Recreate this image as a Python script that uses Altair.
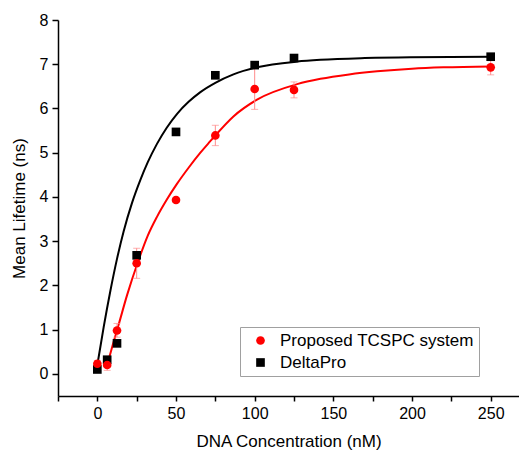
import altair as alt
import pandas as pd

# Measured points
conc = [0, 6.25, 12.5, 25, 50, 75, 100, 125, 250]
tcspc = [0.23, 0.20, 0.98, 2.50, 3.93, 5.39, 6.44, 6.42, 6.93]
tcspc_lo = [0.16, 0.08, 0.83, 2.16, 3.88, 5.16, 5.98, 6.24, 6.76]
tcspc_hi = [0.30, 0.32, 1.14, 2.84, 3.98, 5.62, 6.92, 6.60, 7.10]
delta = [0.10, 0.32, 0.69, 2.68, 5.47, 6.75, 6.98, 7.14, 7.17]

# Fitted curves
fit_delta_x = [0, 4, 8.3, 12.5, 16.7, 22, 27.3, 32, 37.9, 44, 50.7, 58, 65.5, 75, 86.5, 101.5, 127, 141.8, 170, 199, 250]
fit_delta_y = [0.20, 1.05, 1.88, 2.60, 3.22, 3.86, 4.38, 4.78, 5.20, 5.56, 5.88, 6.15, 6.37, 6.58, 6.77, 6.93, 7.06, 7.10, 7.14, 7.16, 7.17]
fit_tcspc_x = [6.25, 10, 13.6, 18.9, 26.3, 32, 37.9, 44, 50.7, 58, 65.5, 71.8, 75, 86.5, 101.5, 127, 141.8, 160, 177.8, 200, 220, 250]
fit_tcspc_y = [0.20, 0.68, 1.12, 1.78, 2.58, 3.12, 3.55, 3.93, 4.30, 4.66, 5.00, 5.26, 5.39, 5.82, 6.20, 6.55, 6.67, 6.77, 6.84, 6.90, 6.93, 6.95]

S1 = "Proposed TCSPC system"
S2 = "DeltaPro"

pts = pd.DataFrame(
    [{"x": c, "y": v, "s": S2} for c, v in zip(conc, delta)]
    + [{"x": c, "y": v, "s": S1} for c, v in zip(conc, tcspc)]
)
err = pd.DataFrame({"x": conc, "lo": tcspc_lo, "hi": tcspc_hi})
fits = pd.DataFrame(
    [{"x": a, "y": b, "c": "black", "s": S2} for a, b in zip(fit_delta_x, fit_delta_y)]
    + [{"x": a, "y": b, "c": "red", "s": S1} for a, b in zip(fit_tcspc_x, fit_tcspc_y)]
)

xscale = alt.Scale(domain=[-25, 268], nice=False, zero=False)
yscale = alt.Scale(domain=[-0.5, 8], nice=False, zero=False)

xaxis = alt.Axis(
    title="DNA Concentration (nM)",
    values=[-25, 0, 25, 50, 75, 100, 125, 150, 175, 200, 225, 250],
    labelExpr="(datum.value % 50 === 0 && datum.value >= 0) ? datum.label : ''",
    tickSize=5, labelPadding=4, titlePadding=12,
)
yaxis = alt.Axis(
    title="Mean Lifetime (ns)",
    values=[i * 0.5 for i in range(0, 17)],
    labelExpr="(datum.value % 1 === 0) ? datum.label : ''",
    tickSize={"condition": {"test": "datum.value % 1 === 0", "value": 6}, "value": 4},
    labelPadding=4, titlePadding=11,
)

lines = alt.Chart(fits).mark_line(strokeWidth=2, interpolate="monotone").encode(
    x=alt.X("x:Q", scale=xscale, axis=xaxis),
    y=alt.Y("y:Q", scale=yscale, axis=yaxis),
    color=alt.Color("c:N", scale=None),
    detail="s:N",
)

ebar = alt.Chart(err).mark_rule(color="#ff8c8c", strokeWidth=1).encode(
    x="x:Q", y="lo:Q", y2="hi:Q"
)
cap_lo = alt.Chart(err).mark_tick(color="#ff8c8c", orient="horizontal", size=7, thickness=1).encode(
    x="x:Q", y="lo:Q"
)
cap_hi = alt.Chart(err).mark_tick(color="#ff8c8c", orient="horizontal", size=7, thickness=1).encode(
    x="x:Q", y="hi:Q"
)

points = alt.Chart(pts).mark_point(filled=True, size=75, opacity=1).encode(
    x="x:Q",
    y="y:Q",
    color=alt.Color("s:N", scale=alt.Scale(domain=[S1, S2], range=["#ff0000", "#000000"]), legend=alt.Legend(title=None)),
    shape=alt.Shape("s:N", scale=alt.Scale(domain=[S1, S2], range=["circle", "square"]), legend=alt.Legend(title=None)),
)

chart = alt.layer(lines, ebar, cap_lo, cap_hi, points).properties(
    width=461, height=376,
    autosize=alt.AutoSizeParams(type="none"),
    padding={"left": 50, "top": 12, "right": 0, "bottom": 55},
).configure_view(stroke=None).configure_axis(
    grid=False,
    domainColor="black", domainWidth=1.5,
    tickColor="black", tickWidth=1.5,
    labelFont="Liberation Sans", labelFontSize=16, labelColor="black",
    titleFont="Liberation Sans", titleFontSize=17, titleFontWeight="normal", titleColor="black",
).configure_legend(
    orient="none", legendX=182, legendY=307,
    strokeColor="#a0a0a0", fillColor="white", padding=5,
    labelFont="Liberation Sans", labelFontSize=17, labelColor="black", labelLimit=400,
    symbolSize=75, symbolOffset=7, labelOffset=11, rowPadding=4,
    symbolStrokeWidth=0,
)

chart.save("out.html", embed_options={"renderer": "svg", "actions": False})
